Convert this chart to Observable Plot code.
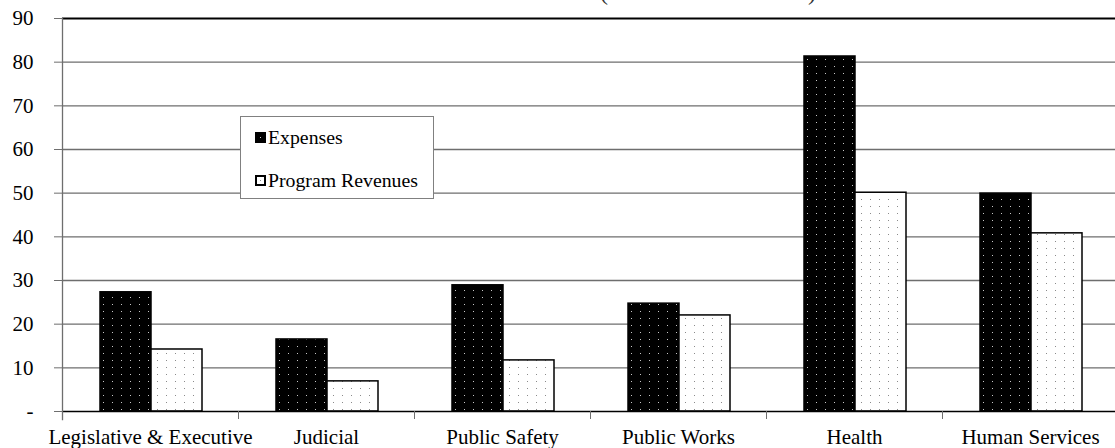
<!DOCTYPE html>
<html><head><meta charset="utf-8">
<script src="https://cdn.jsdelivr.net/npm/d3@7"></script>
<script src="https://cdn.jsdelivr.net/npm/@observablehq/plot@0.6"></script>
<style>
body{margin:0;background:#fff;}
#wrap{position:relative;width:1115px;height:448px;overflow:hidden;font-family:'Liberation Serif',serif;color:#000;}
#title{position:absolute;top:-20px;right:299px;font-size:24px;line-height:24px;white-space:nowrap;color:#333;font-family:'Liberation Serif',serif;}
#legend{position:absolute;left:240px;top:116px;width:192px;height:81px;border:1px solid #808080;background:#fff;font-size:19.8px;z-index:2;font-family:'Liberation Serif',serif;}
#legend .row{position:absolute;left:27px;line-height:20px;white-space:nowrap;font-family:'Liberation Serif',serif;}
#legend svg{position:absolute;left:14px;}
#chart{position:absolute;left:0;top:0;}
</style>
</head><body>
<div id="wrap">
  <div id="chart"></div>
  <div id="title">Governmental Activities (Amounts in Millions)</div>
  <div id="legend"></div>
</div>
<script>
const categories = ["Legislative & Executive","Judicial","Public Safety","Public Works","Health","Human Services"];
const seriesNames = ["Expenses","Program Revenues"];
const expenses = [27.3, 16.5, 28.9, 24.7, 81.3, 49.9];
const revenues = [14.2, 6.9, 11.7, 22.0, 50.1, 40.8];
const yTicks = [0,10,20,30,40,50,60,70,80,90];

const data = categories.flatMap((c, i) => [
  {category: c, series: seriesNames[0], value: expenses[i]},
  {category: c, series: seriesNames[1], value: revenues[i]}
]);

const serif = "'Liberation Serif', serif";
const gridColor = "#6e6e6e";
const plot = Plot.plot({
  width: 1115, height: 448,
  marginTop: 18, marginBottom: 37, marginLeft: 62, marginRight: -3,
  style: {fontSize: "21px", color: "#000", background: "transparent", overflow: "hidden"},
  fx: {domain: categories, padding: 0, label: null, axis: null},
  x: {domain: seriesNames, paddingInner: 0, paddingOuter: 0.708, align: 0.52, axis: null},
  y: {domain: [0, 90], label: null},
  color: {domain: seriesNames, range: ["url(#patExp)", "url(#patRev)"]},
  marks: [
    Plot.ruleY(yTicks.filter(t => t > 0 && t < 90), {stroke: gridColor, strokeWidth: 1.3}),
    Plot.barY(data, {fx: "category", x: "series", y: "value", fill: "series", stroke: "#000", strokeWidth: 1.5}),
    Plot.ruleY([0], {stroke: "#000", strokeWidth: 1.5}),
    Plot.ruleY([90], {stroke: "#000", strokeWidth: 2}),
    Plot.axisY({ticks: yTicks, tickSize: 8, tickPadding: 21, tickFormat: d => d === 0 ? "-" : d, label: null, stroke: gridColor}),
    Plot.axisFx({anchor: "bottom", tickSize: 0, tickPadding: 18, label: null}),
    Plot.axisFx({anchor: "bottom", tickSize: 8, text: null, dx: -88, label: null, stroke: gridColor}),
    Plot.frame({anchor: "left", facet: "super", insetBottom: -8, stroke: gridColor, strokeWidth: 1.3})
  ]
});
document.getElementById("chart").appendChild(plot);

const svgNode = plot.tagName.toLowerCase() === "svg" ? plot : plot.querySelector("svg");
svgNode.style.fontFamily = serif;
svgNode.querySelectorAll("text").forEach(t => { t.style.fontFamily = serif; t.setAttribute("font-family", "Liberation Serif"); });
const svg = d3.select(svgNode);
function addPatterns(sel) {
  const defs = sel.insert("defs", ":first-child");
  const pe = defs.append("pattern").attr("id", "patExp").attr("patternUnits", "userSpaceOnUse").attr("width", 9).attr("height", 7);
  pe.append("rect").attr("width", 9).attr("height", 7).attr("fill", "#000");
  pe.append("rect").attr("x", 4).attr("y", 3).attr("width", 1).attr("height", 1).attr("fill", "#c8c8c8");
  const pr = defs.append("pattern").attr("id", "patRev").attr("patternUnits", "userSpaceOnUse").attr("width", 9).attr("height", 7);
  pr.append("rect").attr("width", 9).attr("height", 7).attr("fill", "#fff");
  pr.append("rect").attr("x", 4).attr("y", 3).attr("width", 1).attr("height", 1).attr("fill", "#8a8a8a");
}
addPatterns(svg);

// Legend
const legend = d3.select("#legend");
const tops = [9.5, 52.5];
const swTops = [15, 58];
seriesNames.forEach((name, i) => {
  const sw = legend.append("svg").attr("width", 11).attr("height", 11).style("top", swTops[i] + "px");
  sw.append("rect").attr("x", 1).attr("y", 1).attr("width", 9).attr("height", 9)
    .attr("fill", i === 0 ? "#000" : "#fff").attr("stroke", "#000").attr("stroke-width", 2);
  sw.append("rect").attr("x", 5).attr("y", 5).attr("width", 1).attr("height", 1).attr("fill", i === 0 ? "#ccc" : "#888");
  legend.append("div").attr("class", "row").style("top", tops[i] + "px").style("font-family", serif).text(name);
});
</script>
</body></html>
